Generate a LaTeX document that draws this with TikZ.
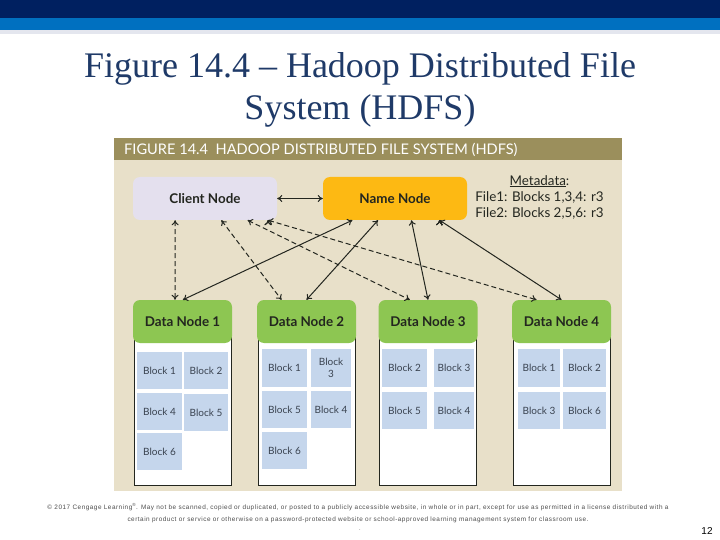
\documentclass[tikz,border=0pt]{standalone}
\usepackage{fontspec}
\usetikzlibrary{arrows.meta}
\setmainfont{Liberation Serif}
\newfontfamily\figfont{Lato}
\newfontfamily\notefont[LetterSpace=8]{Liberation Sans}
\newfontfamily\pagefont{Liberation Sans}
\definecolor{navybar}{HTML}{002060}
\definecolor{bluebar}{HTML}{0070C0}
\definecolor{palebar}{HTML}{E4E6EE}
\definecolor{titleink}{HTML}{1F3A68}
\definecolor{panelbg}{HTML}{E8E0C9}
\definecolor{panelhead}{HTML}{9B8F5C}
\definecolor{clientbg}{HTML}{E4E0EE}
\definecolor{namebg}{HTML}{FDB913}
\definecolor{databg}{HTML}{8DC652}
\definecolor{blockbg}{HTML}{C5D6EC}
\definecolor{inkdark}{HTML}{23261F}
\definecolor{inkblock}{HTML}{3A4350}

\begin{document}
\begin{tikzpicture}[x=1pt, y=-1pt, node distance=47pt, >={To[length=5pt,width=7pt]},
	top node/.style={rectangle,rounded corners=7pt,minimum width=144pt,minimum height=43pt,font=\figfont\fontsize{13.4}{16}\selectfont\bfseries,text=inkdark},
	data node/.style={top node,minimum width=99pt,fill=databg},
	body node/.style={rectangle,draw=inkdark,line width=1pt,fill=white,minimum width=97pt,minimum height=150pt},
	block node/.style={rectangle,fill=blockbg,minimum width=45pt,minimum height=37pt,inner sep=0pt,align=center,font=\figfont\fontsize{10}{12}\selectfont,text=inkblock},
	name link/.style={<->,line width=1pt,draw=inkdark},
	client link/.style={<->,dash pattern=on 5pt off 3pt,line width=1pt,draw=inkdark}]
	
	\useasboundingbox (0,0) rectangle (720,540);
	
	% slide bars
	\fill[navybar] (0,0) rectangle (720,18);
	\fill[bluebar] (0,18) rectangle (720,30.5);
	\fill[palebar] (0,30.5) rectangle (720,34.5);
	
	\node[align=center,font=\fontsize{36}{42}\selectfont,text=titleink] (title) at (360,89.5) {Figure 14.4 -- Hadoop Distributed File\\System (HDFS)};
	
	% figure panel
	\fill[panelbg] (114,138) rectangle (622,491);
	\fill[panelhead] (114,138) rectangle (622,160);
	\node[anchor=west,inner sep=0pt,text=white,font=\figfont\fontsize{14.6}{16}\selectfont] (head) at (124,149.5) {FIGURE 14.4\ \ HADOOP DISTRIBUTED FILE SYSTEM (HDFS)};
	
	\node[top node,fill=clientbg] (client) at (205,198.5) {Client Node};
	\node[top node,fill=namebg] (name) [right of=client,node distance=190pt] {Name Node};
	
	\node[align=center,inner sep=0pt,text=inkdark,font=\figfont\fontsize{13.4}{16}\selectfont] (meta) at (539.5,197) {\underline{Metadata}:\\File1: Blocks 1,3,4: r3\\File2: Blocks 2,5,6: r3};
	
	\node[body node] (body1) at (182.5,410) {};
	\node[body node] (body2) [right of=body1,node distance=124pt] {};
	\node[body node] (body3) [right of=body2,node distance=121.5pt] {};
	\node[body node] (body4) [right of=body3,node distance=133.5pt] {};
	
	\node[data node] (data1) [above of=body1,node distance=88.5pt] {Data Node 1};
	\node[data node] (data2) [above of=body2,node distance=88.5pt] {Data Node 2};
	\node[data node] (data3) [above of=body3,node distance=88.5pt] {Data Node 3};
	\node[data node] (data4) [above of=body4,node distance=88.5pt] {Data Node 4};
	
	% blocks of data node 1
	\node[block node] (a1) at (159.5,370.5) {Block 1};
	\node[block node,minimum width=44pt] (a2) [right of=a1,node distance=46.5pt] {Block 2};
	\node[block node] (a4) [below of=a1,node distance=41pt] {Block 4};
	\node[block node,minimum width=44pt] (a5) [below of=a2,node distance=42pt] {Block 5};
	\node[block node] (a6) [below of=a4,node distance=40pt] {Block 6};
	
	% blocks of data node 2
	\node[block node,minimum height=38pt] (b1) at (284.5,368) {Block 1};
	\node[block node,minimum width=40pt,minimum height=38pt] (b3) [right of=b1,node distance=46.5pt] {Block\\3};
	\node[block node] (b5) [below of=b1,node distance=41.5pt] {Block 5};
	\node[block node,minimum width=40pt] (b4) [below of=b3,node distance=41.5pt] {Block 4};
	\node[block node] (b6) [below of=b5,node distance=41pt] {Block 6};
	
	% blocks of data node 3
	\node[block node,minimum height=38pt] (c2) at (404.5,368) {Block 2};
	\node[block node,minimum width=40pt,minimum height=38pt] (c3) [right of=c2,node distance=49.5pt] {Block 3};
	\node[block node] (c5) [below of=c2,node distance=42.5pt] {Block 5};
	\node[block node,minimum width=40pt] (c4) [below of=c3,node distance=42.5pt] {Block 4};
	
	% blocks of data node 4
	\node[block node,minimum width=42pt,minimum height=38pt] (d1) at (539,368) {Block 1};
	\node[block node,minimum width=43pt,minimum height=38pt] (d2) [right of=d1,node distance=45.5pt] {Block 2};
	\node[block node,minimum width=42pt] (d3) [below of=d1,node distance=42.5pt] {Block 3};
	\node[block node,minimum width=43pt] (d6) [below of=d2,node distance=42.5pt] {Block 6};
	
	\path[name link]
	(client) edge (name)
	(name.207) edge (data1.89)
	(name.232) edge (data2.90)
	(name.307) edge (data3.90)
	(name.334) edge (data4.90);
	
	\path[client link]
	(client.216) edge (data1.109)
	(client.307) edge (data2.139)
	(client.333) edge (data3.130)
	(client.341) edge (data4.139);
	
	% footer
	\node[align=center,inner sep=0pt,text=black!70,font=\notefont\fontsize{6.4}{12}\selectfont] (legal) at (358,513) {\textcopyright{} 2017 Cengage Learning\textsuperscript{\textregistered}. May not be scanned, copied or duplicated, or posted to a publicly accessible website, in whole or in part, except for use as permitted in a license distributed with a\\certain product or service or otherwise on a password-protected website or school-approved learning management system for classroom use.};
	\node[inner sep=0pt,text=black!70,font=\notefont\fontsize{5.6}{7}\selectfont] (dot) at (360,530) {.};
	\node[inner sep=0pt,text=black,font=\pagefont\fontsize{10}{12}\selectfont] (page) at (707,531) {12};
\end{tikzpicture}
\end{document}
